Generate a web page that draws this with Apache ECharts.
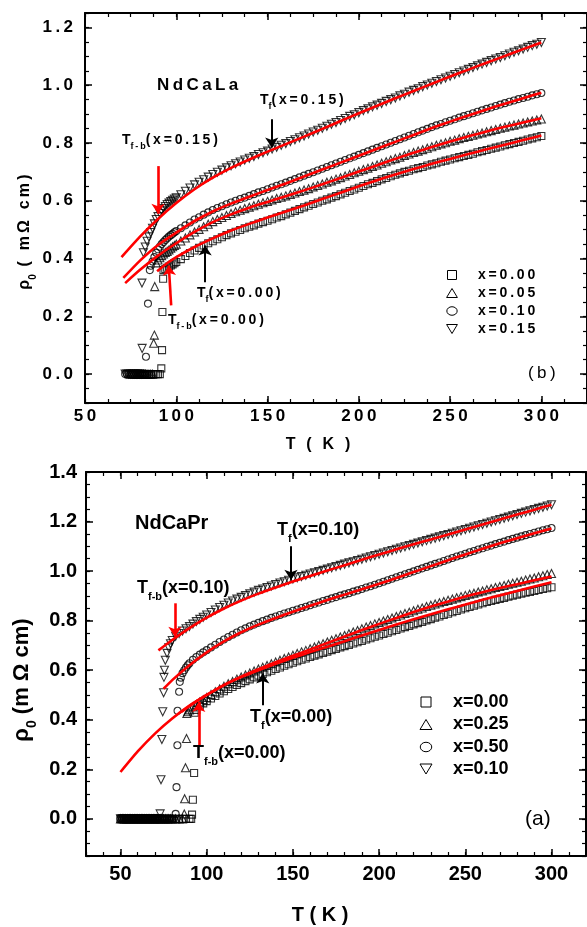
<!DOCTYPE html>
<html>
<head>
<meta charset="utf-8">
<script src="https://cdn.jsdelivr.net/npm/echarts@6.0.0/dist/echarts.min.js"></script>
<style>
  html, body { margin: 0; padding: 0; background: #fff; }
  #chart { width: 587px; height: 927px; }
</style>
</head>
<body>
<div id="chart"></div>
<script>
// Resistivity rho0 (mOhm cm) vs temperature T (K) for two sample families.

// Common temperature grid for the normal-state part of each curve
const tGrid = [100,102.5,105,107.5,110,112.5,115,117.5,120,122.5,125,127.5,130,132.5,135,137.5,140,142.5,145,147.5,
  150,152.5,155,157.5,160,162.5,165,167.5,170,172.5,175,177.5,180,182.5,185,187.5,190,192.5,195,197.5,
  200,202.5,205,207.5,210,212.5,215,217.5,220,222.5,225,227.5,230,232.5,235,237.5,240,242.5,245,247.5,
  250,252.5,255,257.5,260,262.5,265,267.5,270,272.5,275,277.5,280,282.5,285,287.5,290,292.5,295,297.5,300];

// ---- NdCaLa (panel b) ----
const laRho000 = [.388,.398,.409,.419,.428,.437,.445,.453,.460,.467,.474,.481,.487,.493,.499,.505,.510,.515,.521,.526,
  .531,.536,.542,.547,.553,.559,.565,.571,.577,.583,.589,.594,.600,.605,.611,.616,.622,.628,.634,.639,
  .645,.651,.657,.662,.668,.674,.679,.685,.690,.695,.700,.704,.709,.713,.717,.722,.726,.730,.735,.739,
  .743,.747,.751,.755,.759,.763,.768,.772,.776,.780,.784,.788,.792,.796,.800,.804,.808,.812,.816,.820,.824];
const laRho005 = [.450,.461,.471,.482,.492,.501,.510,.519,.528,.535,.542,.549,.556,.562,.567,.573,.578,.583,.588,.593,
  .598,.603,.608,.612,.617,.622,.627,.632,.637,.642,.648,.653,.658,.664,.669,.675,.680,.686,.691,.697,
  .702,.708,.713,.719,.724,.730,.735,.741,.746,.751,.757,.762,.767,.772,.777,.782,.787,.792,.797,.801,
  .806,.810,.815,.819,.823,.827,.831,.835,.839,.843,.847,.851,.855,.859,.862,.866,.869,.873,.876,.880,.883];
const laRho010 = [.495,.505,.515,.525,.535,.543,.552,.560,.568,.575,.581,.588,.594,.600,.606,.611,.617,.623,.629,.634,
  .640,.646,.652,.657,.663,.669,.675,.681,.687,.693,.699,.705,.711,.717,.723,.729,.735,.741,.747,.753,
  .759,.765,.771,.777,.783,.789,.795,.801,.807,.813,.819,.825,.831,.837,.843,.849,.855,.861,.866,.872,
  .877,.882,.888,.893,.898,.903,.908,.913,.918,.923,.928,.933,.938,.943,.947,.952,.956,.960,.965,.969,.973];
const laRho015 = [.610,.621,.633,.644,.655,.664,.673,.682,.691,.699,.706,.714,.721,.728,.734,.741,.747,.753,.760,.766,
  .772,.779,.785,.792,.798,.805,.811,.818,.824,.831,.838,.844,.851,.858,.865,.871,.878,.885,.892,.898,
  .905,.912,.918,.925,.931,.937,.944,.950,.956,.963,.969,.976,.982,.988,.995,1.001,1.007,1.013,1.019,1.025,
  1.031,1.037,1.043,1.049,1.055,1.061,1.067,1.073,1.079,1.085,1.091,1.096,1.102,1.108,1.114,1.119,1.125,1.131,1.137,1.142,1.148];

// transition region [T, rho]
const laLow000 = [[80,0],[81,0],[82,0],[83,0],[84,0],[85,0],[86,0],[87,0],[88,0],[89,0],[90,0],[91,0],
  [91.8,.02],[92.2,.083],[92.4,.215],[92.8,.33],[93,.36],[94,.364],[95,.368],[96,.372],[97,.376],[98,.38],[99,.384]];
const laLow005 = [[75,0],[76,0],[77,0],[78,0],[79,0],[80,0],[81,0],[82,0],[83,0],[84,0],[85,0],[86,0],[87,0],
  [87.6,.107],[88,.135],[88.2,.303],[89,.385],[90,.395],[91,.403],[92,.41],[93,.416],[94,.421],[95,.425],[96,.43],[97,.436],[98,.441],[99,.445]];
const laLow010 = [[72,0],[73,0],[74,0],[75,0],[76,0],[77,0],[78,0],[79,0],[80,0],[81,0],[82,0],[83,0],
  [83.4,.06],[84.5,.244],[85.5,.36],[86,.375],[87,.39],[88,.405],[89,.42],[90,.432],[91,.441],[92,.45],[93,.457],
  [94,.464],[95,.47],[96,.476],[97,.481],[98,.486],[99,.491]];
const laLow015 = [[72,0],[73,0],[74,0],[75,0],[76,0],[77,0],[78,0],[79,0],[80,0],[81,0],
  [81.3,.089],[81.2,.315],[82,.42],[83,.44],[84,.46],[85,.475],[86,.49],[87,.505],[88,.52],[89,.535],[90,.545],
  [91,.556],[92,.565],[93,.573],[94,.58],[95,.587],[96,.592],[97,.597],[98,.602],[99,.606]];

// fitted curves [T, rho]
const laFit000 = [[89.5,.356],[95,.384],[100,.405],[110,.44],[120,.47],[130,.497],[140,.52],[150,.542],[160,.563],
  [170,.584],[180,.606],[190,.628],[200,.65],[210,.671],[220,.691],[230,.71],[240,.728],[250,.745],[260,.762],
  [270,.778],[280,.794],[290,.81],[300,.826]];
const laFit005 = [[72,.315],[80,.36],[90,.41],[100,.453],[110,.492],[120,.526],[130,.553],[140,.576],[150,.596],
  [160,.616],[170,.636],[180,.657],[190,.679],[200,.701],[210,.723],[220,.745],[230,.766],[240,.786],[250,.805],
  [260,.823],[270,.84],[280,.856],[290,.871],[300,.886]];
const laFit010 = [[71,.333],[80,.392],[90,.447],[100,.49],[110,.53],[120,.563],[130,.59],[140,.614],[150,.637],
  [160,.66],[170,.684],[180,.708],[190,.732],[200,.756],[210,.78],[220,.804],[230,.828],[240,.852],[250,.874],
  [260,.895],[270,.916],[280,.936],[290,.955],[300,.974]];
const laFit015 = [[70,.405],[80,.475],[90,.537],[100,.592],[110,.64],[120,.68],[130,.714],[140,.743],[150,.77],
  [160,.796],[170,.822],[180,.849],[190,.876],[200,.903],[210,.929],[220,.955],[230,.98],[240,1.005],[250,1.03],
  [260,1.054],[270,1.078],[280,1.101],[290,1.125],[300,1.148]];

// ---- NdCaPr (panel a) ----
const prRho000 = [.475,.486,.496,.506,.515,.524,.532,.540,.548,.556,.563,.571,.578,.585,.592,.598,.605,.611,.618,.624,
  .630,.636,.642,.647,.653,.659,.664,.670,.675,.681,.686,.692,.697,.702,.708,.713,.718,.724,.729,.735,
  .740,.746,.751,.757,.762,.768,.774,.779,.785,.790,.795,.801,.806,.812,.817,.823,.828,.834,.839,.845,
  .850,.855,.860,.865,.870,.875,.879,.884,.888,.892,.897,.901,.905,.909,.913,.916,.920,.924,.928,.931,.935];
const prRho025 = [.490,.502,.513,.524,.535,.545,.554,.564,.573,.581,.589,.597,.605,.612,.619,.626,.633,.640,.647,.653,
  .660,.667,.674,.680,.687,.694,.701,.707,.714,.721,.727,.734,.740,.747,.754,.760,.767,.774,.780,.787,
  .793,.799,.805,.811,.817,.823,.829,.834,.840,.846,.851,.857,.862,.867,.872,.877,.882,.887,.892,.897,
  .902,.907,.911,.916,.920,.925,.929,.934,.938,.942,.947,.951,.955,.959,.964,.968,.972,.977,.981,.986,.990];
const prRho050 = [.681,.692,.703,.714,.724,.734,.743,.752,.761,.769,.777,.784,.791,.798,.804,.811,.817,.823,.829,.834,
  .840,.845,.851,.856,.862,.868,.873,.879,.884,.890,.895,.901,.906,.911,.917,.922,.928,.934,.939,.945,
  .951,.957,.963,.969,.975,.981,.987,.993,.999,1.005,1.011,1.017,1.023,1.029,1.035,1.041,1.047,1.053,1.059,1.064,
  1.070,1.076,1.081,1.087,1.092,1.098,1.103,1.109,1.114,1.119,1.125,1.130,1.135,1.140,1.145,1.150,1.155,1.160,1.165,1.169,1.174];
const prRho010 = [.823,.833,.843,.853,.862,.871,.879,.887,.894,.901,.908,.915,.922,.928,.934,.940,.946,.952,.957,.963,
  .968,.973,.978,.983,.988,.993,.998,1.003,1.008,1.013,1.018,1.023,1.028,1.033,1.038,1.043,1.048,1.053,1.058,1.063,
  1.068,1.073,1.078,1.083,1.088,1.093,1.098,1.103,1.108,1.113,1.118,1.123,1.128,1.133,1.138,1.143,1.148,1.153,1.158,1.163,
  1.168,1.173,1.178,1.183,1.188,1.193,1.198,1.203,1.208,1.213,1.218,1.223,1.228,1.233,1.238,1.243,1.248,1.253,1.258,1.263,1.268];

const prLow000 = [[50,0],[51,0],[52,0],[53,0],[54,0],[55,0],[56,0],[57,0],[58,0],[59,0],[60,0],[61,0],[62,0],[63,0],
  [64,0],[65,0],[66,0],[67,0],[68,0],[69,0],[70,0],[71,0],[72,0],[73,0],[74,0],[75,0],[76,0],[77,0],[78,0],[79,0],
  [80,0],[82,0],[84,0],[86,0],[88,0],[90,0],[91,0],
  [91.5,.017],[92,.077],[92.7,.185],[93,.428],[94,.44],[96,.455],[98,.466]];
const prLow025 = [[50,0],[51,0],[52,0],[53,0],[54,0],[55,0],[56,0],[57,0],[58,0],[59,0],[60,0],[61,0],[62,0],[63,0],
  [64,0],[65,0],[66,0],[67,0],[68,0],[69,0],[70,0],[71,0],[72,0],[73,0],[74,0],[75,0],[76,0],[77,0],[78,0],[79,0],
  [80,0],[82,0],[84,0],[86,0],
  [87,.02],[87.2,.081],[87.7,.206],[88.3,.324],[88.5,.425],[89,.432],[90,.44],[92,.452],[94,.462],[96,.472],[98,.481]];
const prLow050 = [[50,0],[51,0],[52,0],[53,0],[54,0],[55,0],[56,0],[57,0],[58,0],[59,0],[60,0],[61,0],[62,0],[63,0],
  [64,0],[65,0],[66,0],[67,0],[68,0],[69,0],[70,0],[71,0],[72,0],[73,0],[74,0],[75,0],[76,0],[77,0],[78,0],[79,0],[80,0],[81,0],
  [82,.02],[82.5,.128],[83,.297],[83.1,.436],[84,.513],[84.4,.553],[85,.57],[86,.588],[87,.6],[88,.611],[89,.62],
  [90,.628],[92,.642],[94,.653],[96,.663],[98,.672]];
const prLow010 = [[50,0],[51,0],[52,0],[53,0],[54,0],[55,0],[56,0],[57,0],[58,0],[59,0],[60,0],[61,0],[62,0],[63,0],
  [64,0],[65,0],[66,0],[67,0],[68,0],[69,0],[70,0],[71,0],[72,0],
  [73,.02],[73.5,.158],[74,.32],[74.5,.432],[75,.509],[75.2,.571],[75.5,.6],[76,.64],[77,.668],[78,.69],[79,.707],
  [80,.72],[82,.737],[84,.748],[86,.758],[88,.767],[90,.776],[92,.786],[94,.796],[96,.805],[98,.814]];

const prFit000 = [[50,.189],[60,.272],[70,.344],[80,.405],[90,.457],[100,.5],[110,.54],[120,.572],[130,.6],[140,.626],
  [150,.65],[160,.673],[170,.695],[180,.717],[190,.74],[200,.762],[210,.784],[220,.806],[230,.826],[240,.846],
  [250,.865],[260,.884],[270,.902],[280,.92],[290,.938],[300,.955]];
const prFit025 = [[85,.43],[90,.455],[100,.5],[110,.54],[120,.574],[130,.604],[140,.632],[150,.658],[160,.684],
  [170,.71],[180,.736],[190,.762],[200,.787],[210,.811],[220,.835],[230,.857],[240,.877],[250,.897],[260,.915],
  [270,.932],[280,.947],[290,.963],[300,.978]];
const prFit050 = [[75,.525],[80,.56],[90,.62],[100,.672],[110,.716],[120,.753],[130,.784],[140,.811],[150,.836],
  [160,.86],[170,.883],[180,.905],[190,.927],[200,.949],[210,.972],[220,.996],[230,1.02],[240,1.044],[250,1.067],
  [260,1.09],[270,1.112],[280,1.133],[290,1.153],[300,1.172]];
const prFit010 = [[72,.68],[80,.722],[90,.77],[100,.812],[110,.849],[120,.881],[130,.909],[140,.934],[150,.958],
  [160,.98],[170,1.002],[180,1.024],[190,1.046],[200,1.067],[210,1.088],[220,1.108],[230,1.128],[240,1.148],
  [250,1.168],[260,1.188],[270,1.208],[280,1.228],[290,1.248],[300,1.268]];

// tick labels
const laTicksX = [50, 100, 150, 200, 250, 300];
const laTicksY = [0, 0.2, 0.4, 0.6, 0.8, 1.0, 1.2];
const prTicksX = [50, 100, 150, 200, 250, 300];
const prTicksY = [0, 0.2, 0.4, 0.6, 0.8, 1.0, 1.2, 1.4];

// legend entries
const laLegend = ['x=0.00', 'x=0.05', 'x=0.10', 'x=0.15'];
const prLegend = ['x=0.00', 'x=0.25', 'x=0.50', 'x=0.10'];

const FONT = '"Liberation Sans", Arial, Helvetica, sans-serif';
const SYM_DOWN = 'path://M0,0 L10,0 L5,9 Z';

// panel (b) text is drawn with loose letter spacing
function spaced(s) { return s.split('').join('\u2009'); }

function buildAxes(dir, g, min, max, majors, minorStep, label) {
  const isX = dir === 'x';
  const pos = isX ? ['bottom', 'top'] : ['left', 'right'];
  const base = {
    type: 'value', gridIndex: g, min: min, max: max, scale: false,
    splitLine: { show: false }, splitArea: { show: false }
  };
  const line = { show: true, onZero: false, lineStyle: { color: '#000', width: 2 } };
  return [
    Object.assign({}, base, {
      position: pos[0], axisLine: line,
      axisTick: { show: true, inside: true, length: 7, customValues: majors, lineStyle: { color: '#000', width: 1.5 } },
      axisLabel: Object.assign({ show: true, customValues: majors, color: '#000', fontFamily: FONT, fontWeight: 'bold' }, label)
    }),
    Object.assign({}, base, {
      position: pos[0], interval: minorStep, axisLine: { show: false, onZero: false },
      axisTick: { show: true, inside: true, length: 4, lineStyle: { color: '#000', width: 1.2 } },
      axisLabel: { show: false }
    }),
    Object.assign({}, base, {
      position: pos[1], axisLine: line,
      axisTick: { show: true, inside: true, length: 7, customValues: majors, lineStyle: { color: '#000', width: 1.5 } },
      axisLabel: { show: false }
    }),
    Object.assign({}, base, {
      position: pos[1], interval: minorStep, axisLine: { show: false, onZero: false },
      axisTick: { show: true, inside: true, length: 4, lineStyle: { color: '#000', width: 1.2 } },
      axisLabel: { show: false }
    })
  ];
}

const xAxes = [].concat(
  buildAxes('x', 0, 50, 325, laTicksX, 12.5, { fontSize: 17, margin: 5, formatter: v => spaced(String(v)) }),
  buildAxes('x', 1, 30, 320, prTicksX, 10, { fontSize: 20, margin: 8, formatter: v => String(v) })
);
const yAxes = [].concat(
  buildAxes('y', 0, -0.1, 1.25, laTicksY, 0.05, { fontSize: 17, margin: 12, formatter: v => spaced(v.toFixed(1)) }),
  buildAxes('y', 1, -0.15, 1.4, prTicksY, 0.05, { fontSize: 20, margin: 9, formatter: v => v.toFixed(1) })
);

function joinData(low, rho) {
  return low.concat(tGrid.map((t, i) => [t, rho[i]]));
}

function markers(panel, data, symbol, size) {
  const ax = panel === 0 ? 0 : 4;
  return {
    type: 'scatter', xAxisIndex: ax, yAxisIndex: ax, data: data,
    symbol: symbol, symbolSize: size, silent: true, z: 2,
    itemStyle: { color: 'rgba(0,0,0,0)', borderColor: '#000', borderWidth: 1.1 }
  };
}

function arrow(from, to, color, width) {
  return [
    { coord: from, lineStyle: { color: color, width: width, type: 'solid' } },
    { coord: to, lineStyle: { color: color, width: width, type: 'solid' } }
  ];
}

function fit(panel, data, arrows) {
  const ax = panel === 0 ? 0 : 4;
  const s = {
    type: 'line', xAxisIndex: ax, yAxisIndex: ax, data: data, smooth: 0.2,
    symbol: 'none', showSymbol: false, silent: true, z: 3,
    lineStyle: { color: '#ff0000', width: 2.6 }
  };
  if (arrows) {
    s.markLine = {
      silent: true, animation: false, symbol: ['none', 'arrow'], symbolSize: 10,
      label: { show: false }, emphasis: { disabled: true }, data: arrows
    };
  }
  return s;
}

const series = [
  markers(0, joinData(laLow000, laRho000), 'rect', 7),
  markers(0, joinData(laLow005, laRho005), 'triangle', 8),
  markers(0, joinData(laLow010, laRho010), 'circle', 7),
  markers(0, joinData(laLow015, laRho015), SYM_DOWN, 8),
  fit(0, laFit000, [
    arrow([115.8, 0.318], [115.8, 0.445], '#000', 2),
    arrow([97.2, 0.238], [95.9, 0.376], '#ff0000', 2.6)
  ]),
  fit(0, laFit005),
  fit(0, laFit010),
  fit(0, laFit015, [
    arrow([152.3, 0.882], [152.3, 0.784], '#000', 2),
    arrow([90.0, 0.72], [90.0, 0.555], '#ff0000', 2.6)
  ]),
  markers(1, joinData(prLow000, prRho000), 'rect', 7),
  markers(1, joinData(prLow025, prRho025), 'triangle', 8),
  markers(1, joinData(prLow050, prRho050), 'circle', 7),
  markers(1, joinData(prLow010, prRho010), SYM_DOWN, 8),
  fit(1, prFit000, [
    arrow([132.5, 0.459], [132.5, 0.587], '#000', 2),
    arrow([95.4, 0.293], [95.4, 0.472], '#ff0000', 2.6)
  ]),
  fit(1, prFit025),
  fit(1, prFit050),
  fit(1, prFit010, [
    arrow([148.9, 1.10], [148.9, 0.965], '#000', 2),
    arrow([81.6, 0.870], [81.6, 0.735], '#ff0000', 2.6)
  ])
];

// rich text with "m" (main) and "s" (subscript) tokens
function richStyles(size, weight) {
  return {
    m: { fontSize: size, fontWeight: weight, fontFamily: FONT, color: '#000', lineHeight: Math.round(size * 1.6), verticalAlign: 'middle' },
    s: { fontSize: Math.round(size * 0.62), fontWeight: weight, fontFamily: FONT, color: '#000', lineHeight: Math.round(size * 0.8), verticalAlign: 'bottom' }
  };
}
function richText(x, y, parts, size, opts) {
  opts = opts || {};
  const sp = opts.spaced ? spaced : (s => s);
  const text = parts.map(p => '{' + p[0] + '|' + sp(p[1]) + '}').join('');
  const el = {
    type: 'text', x: x, y: y, z: 20, silent: true,
    style: { text: text, rich: richStyles(size, opts.weight || 'bold'), textAlign: opts.align || 'left', textVerticalAlign: 'middle' }
  };
  if (opts.rotate) el.rotation = opts.rotate;
  return el;
}
function plainText(x, y, str, size, opts) {
  opts = opts || {};
  return {
    type: 'text', x: x, y: y, z: 20, silent: true,
    style: {
      text: opts.spaced ? spaced(str) : str, fill: '#000',
      font: (opts.weight || 'bold') + ' ' + size + 'px ' + FONT,
      textAlign: opts.align || 'left', textVerticalAlign: 'middle'
    }
  };
}

function legendSymbol(kind, cx, cy, s) {
  const st = { fill: 'none', stroke: '#000', lineWidth: 1 };
  const h = s / 2;
  if (kind === 'rect') return { type: 'rect', shape: { x: cx - h, y: cy - h, width: s, height: s }, style: st, z: 20, silent: true };
  if (kind === 'circle') return { type: 'ellipse', shape: { cx: cx, cy: cy, rx: h * 1.15, ry: h * 0.95 }, style: st, z: 20, silent: true };
  if (kind === 'up') return { type: 'polygon', shape: { points: [[cx, cy - h], [cx + h * 1.2, cy + h], [cx - h * 1.2, cy + h]] }, style: st, z: 20, silent: true };
  return { type: 'polygon', shape: { points: [[cx - h * 1.2, cy - h], [cx + h * 1.2, cy - h], [cx, cy + h]] }, style: st, z: 20, silent: true };
}

const graphics = [];
// panel (b) legend
const laKinds = ['rect', 'up', 'circle', 'down'];
[275, 293, 311, 329].forEach((y, i) => {
  graphics.push(legendSymbol(laKinds[i], 452, y, 9));
  graphics.push(plainText(478, y, laLegend[i], 14, { spaced: true }));
});
// panel (a) legend
const prKinds = ['rect', 'up', 'circle', 'down'];
[702, 724.5, 747, 769].forEach((y, i) => {
  graphics.push(legendSymbol(prKinds[i], 426, y, 10));
  graphics.push(plainText(453, y, prLegend[i], 18));
});

// panel (b) annotations
graphics.push(plainText(157, 85, 'NdCaLa', 17, { spaced: true }));
graphics.push(richText(260, 100, [['m', 'T'], ['s', 'f'], ['m', '(x=0.15)']], 14, { spaced: true }));
graphics.push(richText(122, 140, [['m', 'T'], ['s', 'f-b'], ['m', '(x=0.15)']], 14, { spaced: true }));
graphics.push(richText(197, 293, [['m', 'T'], ['s', 'f'], ['m', '(x=0.00)']], 14, { spaced: true }));
graphics.push(richText(168, 320, [['m', 'T'], ['s', 'f-b'], ['m', '(x=0.00)']], 14, { spaced: true }));
graphics.push(plainText(528, 373, '(b)', 17, { spaced: true, weight: 'normal' }));
graphics.push(plainText(318, 445, 'T ( K )', 16, { spaced: true, align: 'center' }));
graphics.push(richText(25, 232, [['m', 'ρ'], ['s', '0'], ['m', ' ( mΩ cm)']], 16, { align: 'center', rotate: Math.PI / 2, spaced: true }));

// panel (a) annotations
graphics.push(plainText(135, 523, 'NdCaPr', 20));
graphics.push(richText(277, 530, [['m', 'T'], ['s', 'f'], ['m', '(x=0.10)']], 18));
graphics.push(richText(137, 588, [['m', 'T'], ['s', 'f-b'], ['m', '(x=0.10)']], 18));
graphics.push(richText(250, 717, [['m', 'T'], ['s', 'f'], ['m', '(x=0.00)']], 18));
graphics.push(richText(193, 753, [['m', 'T'], ['s', 'f-b'], ['m', '(x=0.00)']], 18));
graphics.push(plainText(525, 819, '(a)', 21, { weight: 'normal' }));
graphics.push(plainText(320, 915, 'T ( K )', 20, { align: 'center' }));
graphics.push(richText(22, 680, [['m', 'ρ'], ['s', '0'], ['m', ' (m Ω cm)']], 22, { align: 'center', rotate: Math.PI / 2 }));

const chart = echarts.init(document.getElementById('chart'), null, { renderer: 'canvas' });
chart.setOption({
  backgroundColor: '#fff',
  animation: false,
  grid: [
    { left: 85, top: 13, width: 502, height: 390 },
    { left: 86, top: 472, width: 500, height: 384 }
  ],
  xAxis: xAxes,
  yAxis: yAxes,
  series: series,
  graphic: graphics
});
</script>
</body>
</html>
